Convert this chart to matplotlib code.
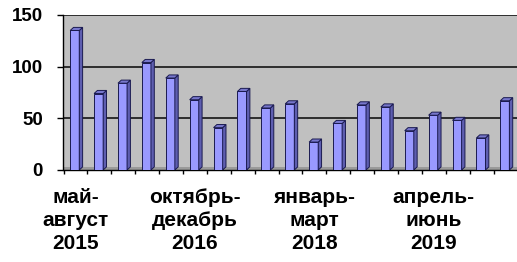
import matplotlib
matplotlib.use("Agg")
import matplotlib.pyplot as plt
from matplotlib.patches import Polygon
import numpy as np

values = [135, 74, 84, 104, 89, 68, 41, 76, 60, 64, 27, 45, 63, 61, 38, 53, 48, 31, 67]
label_positions = [0, 5, 10, 15]
tick_labels = ["май-\nавгуст\n2015", "октябрь-\nдекабрь\n2016", "январь-\nмарт\n2018", "апрель-\nиюнь\n2019"]
yticks = [0, 50, 100, 150]

plt.rcParams['font.family'] = ['Liberation Sans', 'DejaVu Sans']

fig = plt.figure(figsize=(5.17, 2.62), dpi=100)
ax = fig.add_axes([63.5/517, 92/262, (517.5-63.5)/517, 155/262])
n = len(values)
ax.set_xlim(-0.5, n - 0.5)
ax.set_ylim(0, 150)
ax.set_facecolor('#C0C0C0')

# gridlines
for y in yticks[1:]:
    ax.axhline(y, color='#222222', lw=1.3, zorder=1)
# floor strip
ax.axhspan(0, 2.5, color='#9a9a9a', zorder=1, lw=0)

x = np.arange(n)
w = 0.38
off = -0.03
dx = 0.14
dy = 3.0
front = ax.bar(x + off, values, width=w, color='#9999FF', edgecolor='#1a1a50', lw=0.7, zorder=3)
for xi, v in zip(x, values):
    l = xi + off - w / 2
    r = xi + off + w / 2
    side = Polygon([(r, 0), (r + dx, dy), (r + dx, v + dy), (r, v)], closed=True,
                   facecolor='#5E5EB0', edgecolor='#1a1a50', lw=0.7, zorder=3)
    top = Polygon([(l, v), (l + dx, v + dy), (r + dx, v + dy), (r, v)], closed=True,
                  facecolor='#7777CC', edgecolor='#1a1a50', lw=0.7, zorder=3)
    ax.add_patch(side)
    ax.add_patch(top)

for s in ['top', 'right']:
    ax.spines[s].set_visible(False)
ax.spines['left'].set_color('black')
ax.spines['bottom'].set_color('black')
ax.spines['left'].set_linewidth(1.0)
ax.spines['bottom'].set_linewidth(1.0)

ax.set_yticks(yticks)
ax.set_yticklabels([str(t) for t in yticks], fontsize=13.5, fontweight='bold')
ax.tick_params(axis='y', length=4.3, width=1, color='black', pad=10.5)

ax.set_xticks(label_positions)
ax.set_xticklabels(tick_labels, fontsize=15, fontweight='bold', linespacing=1.27)
for t in ax.get_xticklabels():
    t.set_multialignment('center')
    t.set_horizontalalignment('center')
ax.set_xticks(np.arange(n) - 0.5, minor=True)
ax.tick_params(axis='x', which='major', length=0, pad=13)
ax.tick_params(axis='x', which='minor', length=3.2, width=1, color='black')

fig.savefig('out.png', dpi=100)
